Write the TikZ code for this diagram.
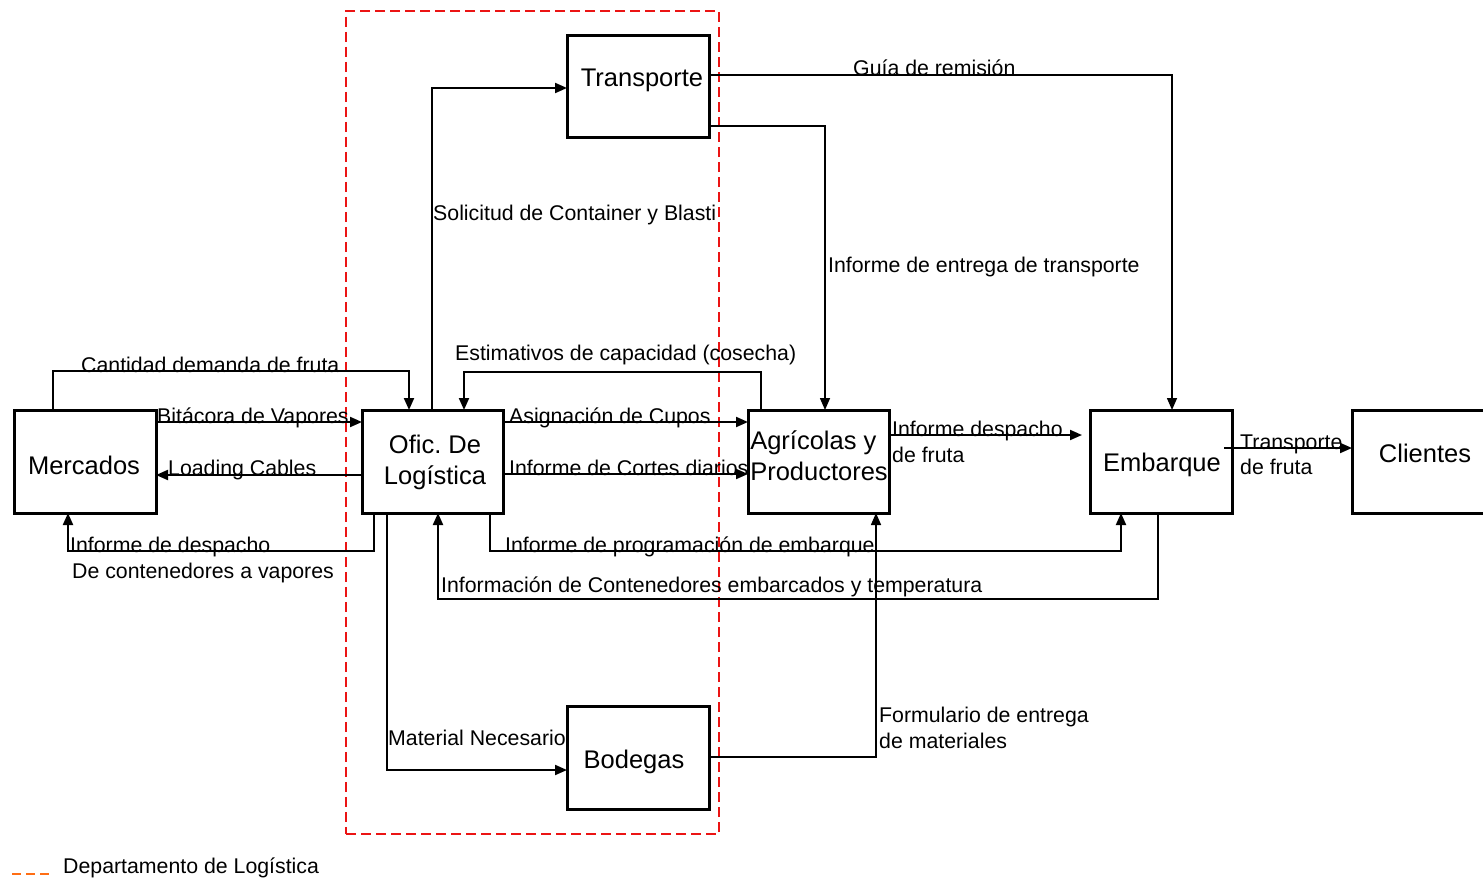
\documentclass[tikz,border=0pt]{standalone}
\usepackage{fontspec}
\setmainfont{Liberation Sans}
\frenchspacing
\usetikzlibrary{arrows.meta,calc}
\definecolor{deptred}{RGB}{235,20,20}
\definecolor{legorange}{RGB}{255,110,20}
\begin{document}
\begin{tikzpicture}[x=1pt,y=-1pt,
  box/.style={draw,line width=3pt,minimum width=142pt,minimum height=103pt,inner sep=0pt,outer sep=0pt},
  btext/.style={inner sep=0pt,font=\fontsize{25.5}{31}\selectfont,align=center},
  conn/.style={line width=2pt,-{Triangle[length=12pt,width=10pt]}},
  thinconn/.style={line width=1.5pt,-{Triangle[length=12pt,width=10pt]}},
  lbl/.style={anchor=base west,inner sep=0pt,font=\fontsize{21.3}{26}\selectfont},
  deptbox/.style={draw=deptred,line width=2pt,dash pattern=on 10pt off 5pt,minimum width=373pt,minimum height=823pt,inner sep=0pt,outer sep=0pt}
]
\useasboundingbox (0,0) rectangle (1483,880);
\clip (0,0) rectangle (1483,880);
% department frame
\node[deptbox] (dept) at (532.5,422.5) {};
% boxes
\node[box] (merc) at (85,461.5) {};
\node[box,minimum width=141pt] (ofic) at (432.5,461.5) {};
\node[box,minimum height=102pt] (trans) at (638,87) {};
\node[box,minimum width=141pt] (agr) at (818.5,461.5) {};
\node[box] (emb) at (1161,461.5) {};
\node[box] (cli) at (1423,461.5) {};
\node[box] (bod) at (638,757.5) {};
% box texts
\node[btext] (mercT) at (84,465) {Mercados};
\node[btext] (oficT) at (435,462.5) {Ofic. De\\Logística};
\node[btext] (transT) at (642,80) {Transporte};
\node[btext,align=left] (agrT) at (819,455.5) {Agrícolas y\\Productores};
\node[btext] (embT) at (1162,465) {Embarque};
\node[btext] (cliT) at (1425,453) {Clientes};
\node[btext] (bodT) at (634,762) {Bodegas};
% connectors
\draw[conn] ($(merc.north west)+(39,0)$) -- ++(0,-39) -| ($(ofic.north west)+(47,0)$);
\draw[conn] ($(merc.north east)+(0,12)$) -- ($(ofic.north west)+(0,12)$);
\draw[conn] ($(ofic.north west)+(0,65)$) -- ($(merc.north east)+(0,65)$);
\draw[conn] ($(ofic.south west)+(12,0)$) -- ++(0,38) -| ($(merc.south west)+(54,0)$);
\draw[conn] ($(ofic.north west)+(70,0)$) |- ($(trans.north west)+(0,52)$);
\draw[conn] ($(agr.north west)+(13,0)$) -- ++(0,-38) -| ($(ofic.north west)+(102,0)$);
\draw[conn] ($(ofic.north east)+(0,12)$) -- ($(agr.north west)+(0,12)$);
\draw[conn] ($(ofic.north east)+(0,64)$) -- ($(agr.north west)+(0,64)$);
\draw[conn] ($(ofic.south west)+(128,0)$) -- ++(0,38) -| ($(emb.south west)+(31,0)$);
\draw[conn] ($(emb.south west)+(68,0)$) -- ++(0,86) -| ($(ofic.south west)+(76,0)$);
\draw[conn] ($(ofic.south west)+(25,0)$) |- ($(bod.north west)+(0,64)$);
\draw[thinconn] ($(bod.north east)+(0,51)$) -| ($(agr.south west)+(128,0)$);
\draw[thinconn] ($(trans.north east)+(0,39)$) -| ($(emb.north west)+(82,0)$);
\draw[thinconn] ($(trans.north east)+(0,90)$) -| ($(agr.north west)+(77,0)$);
\draw[conn] ($(agr.north east)+(0,25)$) -- ($(emb.north west)+(-8,25)$);
\draw[conn] ($(emb.north east)+(-8,38)$) -- ($(cli.north west)+(0,38)$);
% labels
\node[lbl] (l1) at (81,372) {Cantidad demanda de fruta};
\node[lbl] (l2) at (157,423) {Bitácora de Vapores};
\node[lbl] (l3) at (168,475) {Loading Cables};
\node[lbl] (l4a) at (70,552) {Informe de despacho};
\node[lbl] (l4b) at (72,578) {De contenedores a vapores};
\node[lbl] (l5) at (433,220) {Solicitud de Container y Blasti};
\node[lbl] (l6) at (455,360) {Estimativos de capacidad (cosecha)};
\node[lbl] (l7) at (509,423) {Asignación de Cupos};
\node[lbl] (l8) at (509,475) {Informe de Cortes diarios};
\node[lbl] (l9) at (505,552) {Informe de programación de embarque};
\node[lbl] (l10) at (441,592) {Información de Contenedores embarcados y temperatura};
\node[lbl] (l11) at (388,745) {Material Necesario};
\node[lbl] (l12a) at (879,722) {Formulario de entrega};
\node[lbl] (l12b) at (879,748) {de materiales};
\node[lbl] (l13) at (853,76) {Guía de remisión};
\node[lbl] (l14) at (828,272) {Informe de entrega de transporte};
\node[lbl] (l15a) at (892,436) {Informe despacho};
\node[lbl] (l15b) at (892,462) {de fruta};
\node[lbl] (l16a) at (1240,449) {Transporte};
\node[lbl] (l16b) at (1240,474) {de fruta};
% legend
\coordinate (legA) at (12,874);
\coordinate (legB) at (52,874);
\draw[legorange,line width=2pt,dash pattern=on 9pt off 5pt] (legA) -- (legB);
\node[lbl] (legT) at (63,873) {Departamento de Logística};
\end{tikzpicture}
\end{document}
